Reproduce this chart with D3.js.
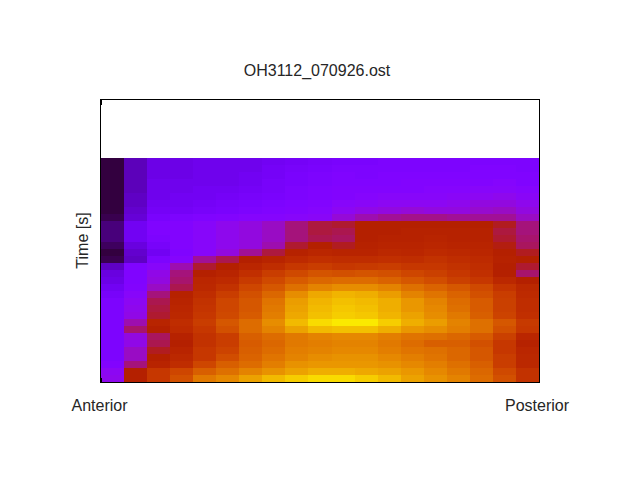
<!DOCTYPE html>
<html><head><meta charset="utf-8">
<script src="https://cdn.jsdelivr.net/npm/d3@7"></script>
<style>html,body{margin:0;padding:0;background:#fff}svg{display:block}text{font-family:"Liberation Sans",sans-serif;font-size:16px;fill:#262626}</style>
</head><body><svg id="c" width="640" height="480"></svg>
<script>
const title = "OH3112_070926.ost";
const yLabel = "Time [s]";
const xTickLabels = ["Anterior", "Posterior"];
// intensity in hundredths per column, top row to bottom row
const col00=[4,4,4,4,4,4,4,4,5,8,8,8,6,4,5,14,17,18,20,22,24,24,24,24,24,24,24,24,24,26,30,31];
const col01=[13,13,13,13,13,14,14,15,16,20,20,20,17,15,14,25,25,25,26,28,30,31,32,38,43,33,32,36,36,42,50,50];
const col02=[18,18,18,19,19,19,20,21,23,25,25,24,22,20,24,28,32,33,36,42,45,46,47,52,50,44,45,48,50,52,60,60];
const col03=[18,18,18,19,19,20,20,21,24,26,26,26,26,25,27,38,42,43,45,51,52,53,54,56,55,51,50,52,54,56,65,68];
const col04=[19,19,19,19,20,20,21,22,25,28,28,28,28,28,40,47,50,53,54,56,58,59,60,62,60,58,58,60,60,65,72,78];
const col05=[19,19,19,19,20,21,22,23,26,31,31,31,31,33,45,50,52,55,58,62,65,65,66,70,68,62,62,64,67,72,76,81];
const col06=[19,19,20,20,21,22,23,24,27,33,33,33,33,40,50,53,57,61,65,68,70,70,71,75,75,72,71,72,73,75,80,86];
const col07=[20,21,21,22,22,23,24,25,27,36,36,36,38,46,52,56,62,66,70,74,77,78,79,82,80,75,74,75,77,79,83,90];
const col08=[21,22,23,23,24,24,25,26,28,42,42,42,47,51,55,60,66,71,76,82,85,86,87,90,86,78,78,79,80,83,86,93];
const col09=[22,23,24,24,25,25,26,27,29,46,46,45,50,53,57,62,69,74,80,87,89,90,91,95,90,80,79,80,82,84,88,95];
const col10=[23,24,25,25,26,26,28,30,34,47,45,44,48,52,56,60,68,75,82,89,91,92,93,97,91,81,80,81,83,84,88,95];
const col11=[23,24,24,25,26,27,29,32,38,50,50,50,51,52,56,61,69,75,82,88,90,91,92,97,91,81,80,81,83,84,87,93];
const col12=[24,24,25,25,26,28,30,33,40,50,50,51,52,54,57,62,68,73,80,85,88,88,89,93,88,79,78,79,81,83,86,90];
const col13=[24,24,25,26,26,28,30,34,41,50,51,51,52,53,56,60,65,70,76,80,84,84,86,88,84,77,75,77,79,81,84,86];
const col14=[24,24,25,26,27,28,30,33,41,50,51,52,53,55,58,60,63,67,73,77,80,81,82,85,82,76,72,76,77,79,81,83];
const col15=[24,24,25,26,27,29,31,33,40,50,51,51,52,54,56,58,60,63,70,73,75,76,78,80,79,74,72,74,74,76,78,80];
const col16=[24,25,25,26,28,30,33,35,40,50,51,51,52,53,55,56,57,60,66,68,71,71,72,76,76,71,68,70,70,72,74,75];
const col17=[24,25,25,27,28,31,33,36,40,48,46,47,49,50,51,50,50,54,59,62,63,63,64,70,68,63,60,60,62,62,66,68];
const col18=[24,24,25,25,27,29,31,33,36,42,42,43,44,48,50,47,43,50,54,55,56,56,57,61,60,53,51,53,54,54,58,58];
const columns=[col00,col01,col02,col03,col04,col05,col06,col07,col08,col09,col10,col11,col12,col13,col14,col15,col16,col17,col18];

const svg=d3.select("#c");
const M={l:100.5,r:539.5,t:99.5,b:382.5,dataTop:158};
const x=d3.scaleBand().domain(d3.range(columns.length)).range([101,539]);
const y=d3.scaleBand().domain(d3.range(col00.length)).range([M.dataTop,382]);
const gnuplot=t=>{const r=Math.sqrt(t),g=t*t*t,b=Math.max(0,Math.sin(2*Math.PI*t));
  return d3.rgb(255*r,255*g,255*b).formatHex();};
const color=d3.scaleSequential(gnuplot).domain([0,100]);

svg.append("g").attr("shape-rendering","crispEdges")
 .selectAll("g").data(columns).join("g")
 .selectAll("rect").data((c,i)=>c.map((v,j)=>({i,j,v}))).join("rect")
 .attr("x",d=>x(d.i)).attr("y",d=>y(d.j))
 .attr("width",x.bandwidth()).attr("height",y.bandwidth())
 .attr("fill",d=>color(d.v));

svg.append("rect").attr("x",M.l).attr("y",M.t).attr("width",M.r-M.l).attr("height",M.b-M.t)
 .attr("fill","none").attr("stroke","#000").attr("stroke-width",1).attr("shape-rendering","crispEdges");
const ticks=[[M.l+1,M.t,M.l+1,M.t+5],[M.l+1,M.b-5,M.l+1,M.b]];
svg.selectAll("line.t").data(ticks).join("line").attr("class","t")
 .attr("x1",d=>d[0]).attr("y1",d=>d[1]).attr("x2",d=>d[2]).attr("y2",d=>d[3])
 .attr("stroke","#000").attr("shape-rendering","crispEdges");

svg.append("text").attr("x",317).attr("y",76).attr("text-anchor","middle").text(title);
svg.append("text").attr("transform","translate(88,240.5) rotate(-90)").attr("text-anchor","middle").text(yLabel);
const tx=[99.5,537];
svg.selectAll("text.xt").data(xTickLabels).join("text").attr("class","xt")
 .attr("x",(d,i)=>tx[i]).attr("y",410.5).attr("text-anchor","middle").text(d=>d);
</script></body></html>
